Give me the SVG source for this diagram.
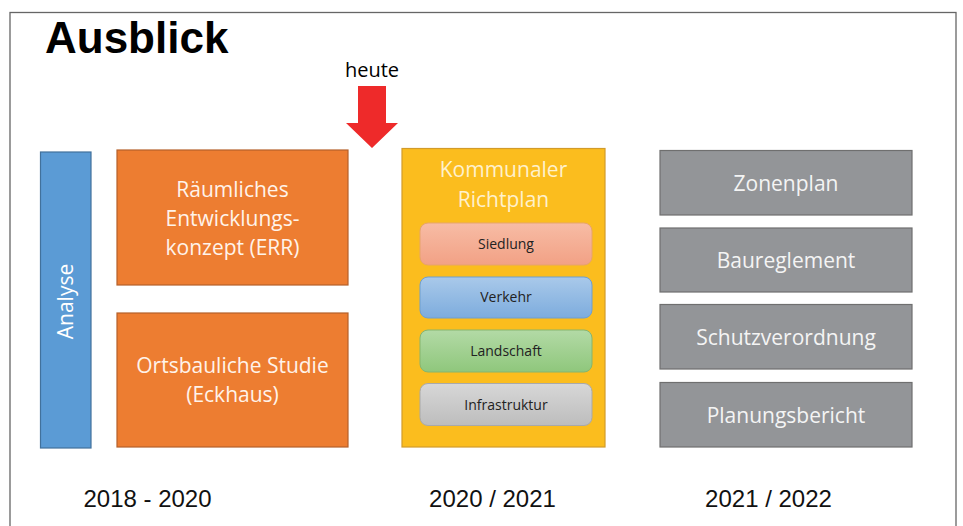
<svg xmlns="http://www.w3.org/2000/svg" width="963" height="526" viewBox="0 0 963 526">
<defs>
<linearGradient id="gS" x1="0" y1="0" x2="0" y2="1"><stop offset="0" stop-color="#F7BCA5"/><stop offset="1" stop-color="#F2A185"/></linearGradient>
<linearGradient id="gV" x1="0" y1="0" x2="0" y2="1"><stop offset="0" stop-color="#A9C9EA"/><stop offset="1" stop-color="#7DACDD"/></linearGradient>
<linearGradient id="gL" x1="0" y1="0" x2="0" y2="1"><stop offset="0" stop-color="#B3DAA6"/><stop offset="1" stop-color="#8FC77C"/></linearGradient>
<linearGradient id="gI" x1="0" y1="0" x2="0" y2="1"><stop offset="0" stop-color="#D7D7D7"/><stop offset="1" stop-color="#BDBDBD"/></linearGradient>
</defs>
<style>
.lbl{font-family:"Open Sans","Noto Sans",sans-serif;text-anchor:middle}
.big{font-size:21px}
.sm{font-size:14px;fill:#222}
.or{fill:#ED7D31;stroke:#B5602A;stroke-width:1.2}
.gr{fill:#939598;stroke:#6F6F6F;stroke-width:1.2}
.sub{stroke-width:1}
.yr{font-family:"Liberation Sans",Arial,sans-serif;font-size:24px;fill:#111;text-anchor:middle}
</style>
<rect x="0" y="0" width="963" height="526" fill="#fff"/>
<rect x="10" y="12.5" width="946" height="530" fill="none" stroke="#666" stroke-width="1.3"/>
<text x="45" y="53" font-family="'Liberation Sans',Arial,sans-serif" font-weight="bold" font-size="44" fill="#000">Ausblick</text>
<g id="heute">
<text class="lbl" x="372" y="77" font-size="20" fill="#000">heute</text>
<polygon points="358,86 386,86 386,123 398,123 372,148 346,123 358,123" fill="#EE2A2A"/>
</g>
<g id="analyse">
<rect x="40.5" y="152" width="50.5" height="296" fill="#5B9BD5" stroke="#41719C" stroke-width="1.2"/>
<text class="lbl big" transform="translate(73,301.5) rotate(-90)" x="0" y="0" fill="#fff">Analyse</text>
</g>
<g id="rek">
<rect class="or" x="117" y="150" width="231" height="135"/>
<text class="lbl big" x="232.5" y="197" fill="#FFF3EA">Räumliches</text>
<text class="lbl big" x="232.5" y="226" fill="#FFF3EA">Entwicklungs-</text>
<text class="lbl big" x="232.5" y="255" fill="#FFF3EA">konzept (ERR)</text>
</g>
<g id="studie">
<rect class="or" x="117" y="313" width="231" height="134"/>
<text class="lbl big" x="232.5" y="373" fill="#FFF3EA">Ortsbauliche Studie</text>
<text class="lbl big" x="232.5" y="402" fill="#FFF3EA">(Eckhaus)</text>
</g>
<g id="richtplan">
<rect x="402" y="148.5" width="203" height="298.5" fill="#FBBD1E" stroke="#D29B2A" stroke-width="1.2"/>
<text class="lbl big" x="503.5" y="177" fill="#FFF1CC">Kommunaler</text>
<text class="lbl big" x="503.5" y="207" fill="#FFF1CC">Richtplan</text>
</g>
<g id="siedlung">
<rect class="sub" x="420" y="223" width="172" height="42" rx="8" fill="url(#gS)" stroke="#E7A46A"/>
<text class="lbl sm" x="506" y="249">Siedlung</text>
</g>
<g id="verkehr">
<rect class="sub" x="420" y="277" width="172" height="41" rx="8" fill="url(#gV)" stroke="#6F9FCF"/>
<text class="lbl sm" x="506" y="302">Verkehr</text>
</g>
<g id="landschaft">
<rect class="sub" x="420" y="330" width="172" height="42" rx="8" fill="url(#gL)" stroke="#86B56F"/>
<text class="lbl sm" x="506" y="356">Landschaft</text>
</g>
<g id="infrastruktur">
<rect class="sub" x="420" y="383.5" width="172" height="42" rx="8" fill="url(#gI)" stroke="#A9A9A9"/>
<text class="lbl sm" x="506" y="410">Infrastruktur</text>
</g>
<g id="zonenplan">
<rect class="gr" x="660" y="150.5" width="252" height="64.5"/>
<text class="lbl big" x="786" y="191" fill="#F4F4F4">Zonenplan</text>
</g>
<g id="baureglement">
<rect class="gr" x="660" y="228" width="252" height="64"/>
<text class="lbl big" x="786" y="268" fill="#F4F4F4">Baureglement</text>
</g>
<g id="schutzverordnung">
<rect class="gr" x="660" y="304.5" width="252" height="64.5"/>
<text class="lbl big" x="786" y="345" fill="#F4F4F4">Schutzverordnung</text>
</g>
<g id="planungsbericht">
<rect class="gr" x="660" y="382.5" width="252" height="64.5"/>
<text class="lbl big" x="786" y="423" fill="#F4F4F4">Planungsbericht</text>
</g>
<g id="connectors"></g>
<text class="yr" x="147.5" y="507">2018 - 2020</text>
<text class="yr" x="492.5" y="507">2020 / 2021</text>
<text class="yr" x="768.5" y="507">2021 / 2022</text>
</svg>
